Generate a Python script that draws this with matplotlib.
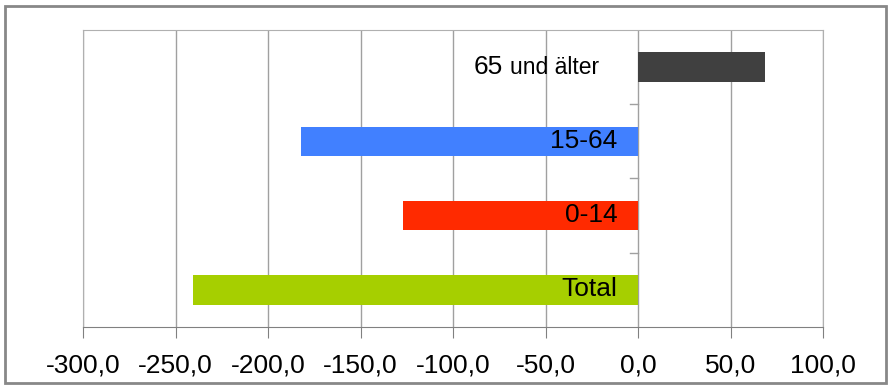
import matplotlib.pyplot as plt
from matplotlib.patches import Rectangle
from matplotlib.ticker import FuncFormatter

plt.rcParams['font.family'] = ['Liberation Sans', 'DejaVu Sans']

categories = ['Total', '0-14', '15-64', '65 und älter']
values = [-240.5, -127.0, -182.0, 68.5]
colors = ['#a6cf00', '#ff2a00', '#4180ff', '#404040']
xticks = [-300, -250, -200, -150, -100, -50, 0, 50, 100]


def comma_fmt(v, pos):
    return f'{v:.1f}'.replace('.', ',')


fig = plt.figure(figsize=(8.89, 3.85), dpi=100)
ax = fig.add_axes([83 / 889, 1 - 327 / 385, 740 / 889, 297 / 385])

y = list(range(len(categories)))
ax.barh(y, values, height=0.4, color=colors, zorder=3)

ax.set_xlim(-300, 100)
ax.set_ylim(-0.5, len(categories) - 0.5)
ax.set_xticks(xticks)
ax.xaxis.set_major_formatter(FuncFormatter(comma_fmt))
ax.tick_params(axis='x', length=8, color='#808080', labelsize=19, pad=11)
ax.grid(axis='x', color='#a0a0a0', linewidth=1, zorder=0)

# category ticks drawn on the zero line
ax.set_yticks([])
for b in [0.5, 1.5, 2.5]:
    ax.plot([-4.5, 0], [b, b], color='#a0a0a0', linewidth=1, zorder=2)

for s in ['top', 'right', 'left']:
    ax.spines[s].set_color('#b0b0b0')
ax.spines['bottom'].set_color('#808080')

# labels inside / next to the bars
for i, cat in enumerate(categories[:3]):
    ax.text(-11, y[i] + 0.01, cat, ha='right', va='center', fontsize=19, zorder=4)
ax.text(-73, 3 + 0.0, '65', ha='right', va='center', fontsize=19, zorder=4)
ax.text(-69, 3 + 0.0, 'und älter', ha='left', va='center', fontsize=16.5, zorder=4)

# outer frame
fig.patches.append(Rectangle((5 / 889, 2 / 385), 881 / 889, 377 / 385,
                             transform=fig.transFigure, fill=False,
                             edgecolor='#888888', linewidth=2))

fig.savefig('out.png', dpi=100)
